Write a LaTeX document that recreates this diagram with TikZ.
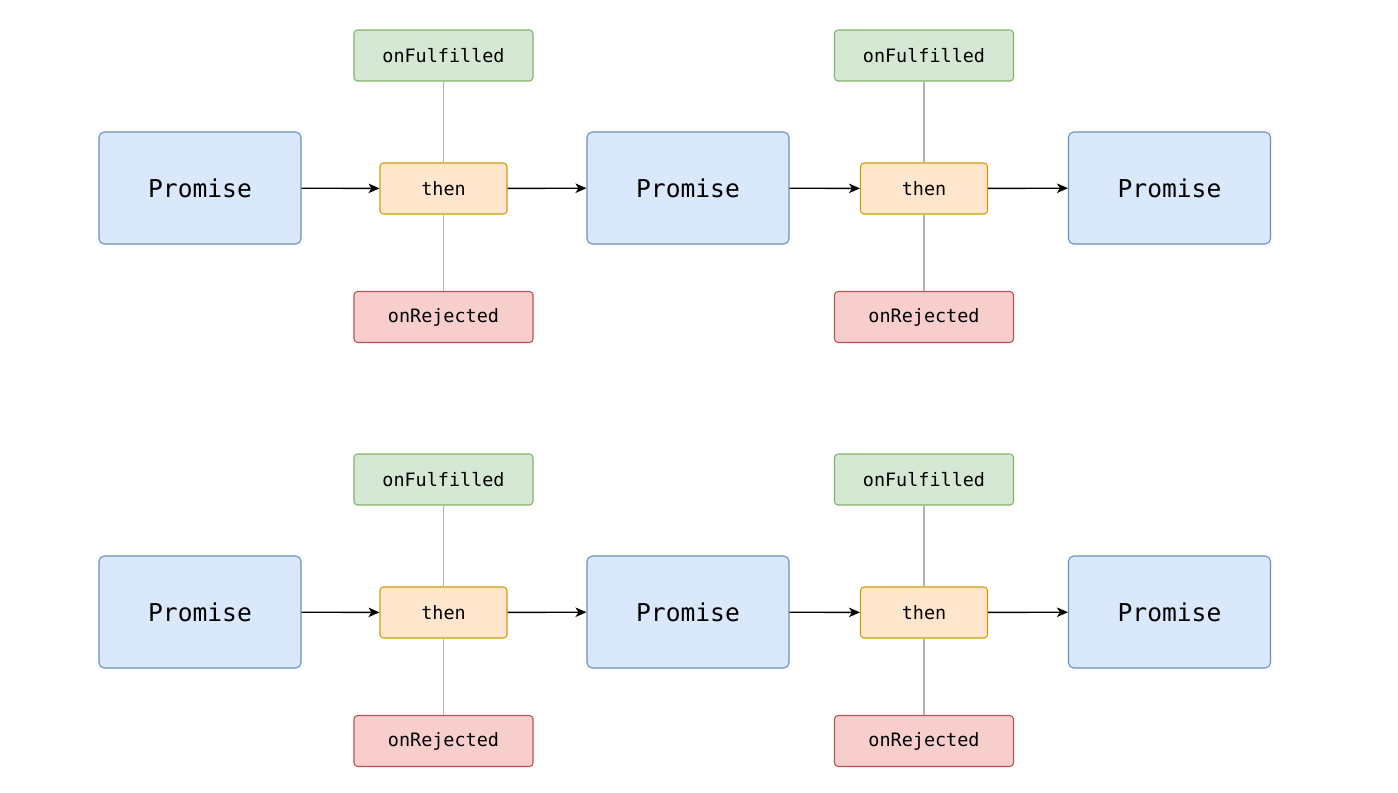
\documentclass[tikz,border=0pt]{standalone}
\usepackage{fontspec}
\setmonofont{DejaVu Sans Mono}
\usetikzlibrary{arrows.meta}
\definecolor{pblue}{HTML}{DAE8FC}
\definecolor{pblueline}{HTML}{6C8EBF}
\definecolor{torange}{HTML}{FFE6CC}
\definecolor{torangeline}{HTML}{D79B00}
\definecolor{fgreen}{HTML}{D5E8D4}
\definecolor{fgreenline}{HTML}{82B366}
\definecolor{rred}{HTML}{F8CECC}
\definecolor{rredline}{HTML}{B85450}
\tikzset{
  promise/.style={draw=pblueline, fill=pblue, rectangle, rounded corners=3pt, line width=0.6pt,
    minimum width=4.04cm, minimum height=2.24cm, font=\ttfamily\fontsize{14}{16}\selectfont},
  thenbox/.style={draw=torangeline, fill=torange, rectangle, rounded corners=2pt, line width=0.6pt,
    minimum width=2.54cm, minimum height=1.02cm, font=\ttfamily\fontsize{10.5}{12}\selectfont},
  fulfilled/.style={draw=fgreenline, fill=fgreen, rectangle, rounded corners=2pt, line width=0.6pt,
    minimum width=3.58cm, minimum height=1.02cm, font=\ttfamily\fontsize{10.5}{12}\selectfont},
  rejected/.style={draw=rredline, fill=rred, rectangle, rounded corners=2pt, line width=0.6pt,
    minimum width=3.58cm, minimum height=1.02cm, font=\ttfamily\fontsize{10.5}{12}\selectfont},
  handler/.style={draw=black!30, line width=0.7pt},
  chain/.style={->,>={Stealth[length=2.2mm,width=1.9mm,inset=0.6mm]}, line width=0.8pt}
}
\begin{document}
\begin{tikzpicture}
		\useasboundingbox[fill=white] (0,0) rectangle (27.96,-15.84);
		\foreach \r/\y in {1/0, 2/-8.48} {
			% Nodes
			\node[promise] (p\r a) at (4.0,-3.76+\y) {Promise};
			\node[thenbox] (t\r a) at (8.87,-3.77+\y) {then};
			\node[fulfilled] (f\r a) at (8.87,-1.11+\y) {onFulfilled};
			\node[rejected] (j\r a) at (8.87,-6.34+\y) {onRejected};
			\node[promise] (p\r b) at (13.76,-3.76+\y) {Promise};
			\node[thenbox] (t\r b) at (18.48,-3.77+\y) {then};
			\node[fulfilled] (f\r b) at (18.48,-1.11+\y) {onFulfilled};
			\node[rejected] (j\r b) at (18.48,-6.34+\y) {onRejected};
			\node[promise] (p\r c) at (23.39,-3.76+\y) {Promise};
			% Handlers
			\draw[handler] (t\r a) -- (f\r a);
			\draw[handler] (t\r a) -- (j\r a);
			\draw[handler] (t\r b) -- (f\r b);
			\draw[handler] (t\r b) -- (j\r b);
			% Arrows
			\draw[chain] (p\r a) -- (t\r a);
			\draw[chain] (t\r a) -- (p\r b);
			\draw[chain] (p\r b) -- (t\r b);
			\draw[chain] (t\r b) -- (p\r c);
		}
	\end{tikzpicture}
\end{document}
